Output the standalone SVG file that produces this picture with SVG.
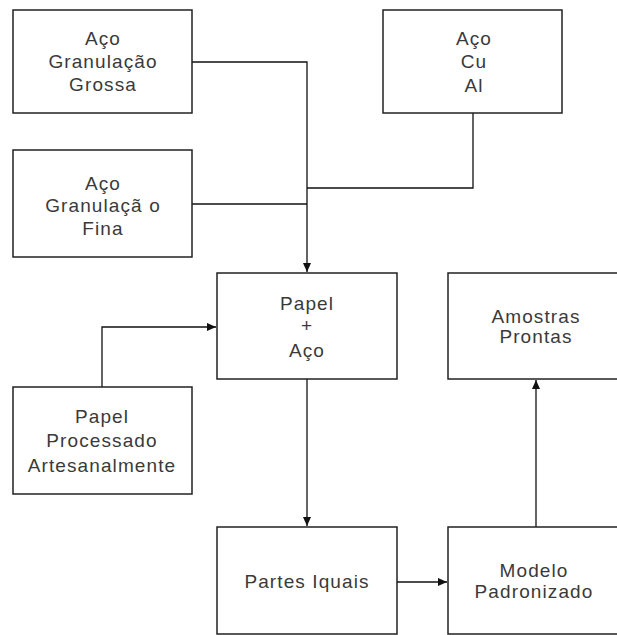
<svg xmlns="http://www.w3.org/2000/svg" width="617" height="635" viewBox="0 0 617 635">
<defs>
<marker id="arr" markerWidth="10" markerHeight="10" refX="9" refY="5" orient="auto" markerUnits="userSpaceOnUse">
<path d="M0,1 L9,5 L0,9 Z" fill="#111"/>
</marker>
<style>
rect{fill:#fff;stroke:#222;stroke-width:1.5}
text{font-family:"Liberation Sans",Arial,sans-serif;font-size:19px;fill:#3a3a3a;text-anchor:middle;letter-spacing:1.1px}
.c{fill:none;stroke:#111;stroke-width:1.3}
</style>
</defs>
<rect x="0" y="0" width="617" height="635" style="stroke:none"/>
<g id="connectors">
<path class="c" d="M192,62 H307 V272" marker-end="url(#arr)"/>
<path class="c" d="M192,204 H307"/>
<path class="c" d="M473,113 V188 H307"/>
<path class="c" d="M102,387 V327 H216" marker-end="url(#arr)"/>
<path class="c" d="M307,379 V526" marker-end="url(#arr)"/>
<path class="c" d="M397,582 H447" marker-end="url(#arr)"/>
<path class="c" d="M536,527 V380" marker-end="url(#arr)"/>
</g>
<g id="n1"><rect x="13" y="10" width="179" height="103"/>
<text x="103" y="45">Aço</text><text x="103" y="68">Granulação</text><text x="103" y="91">Grossa</text></g>
<g id="n2"><rect x="13" y="150" width="179" height="107"/>
<text x="103" y="190">Aço</text><text x="103" y="212">Granulaçã o</text><text x="103" y="235">Fina</text></g>
<g id="n3"><rect x="383" y="10" width="179" height="103"/>
<text x="474" y="45">Aço</text><text x="474" y="68">Cu</text><text x="474" y="92">Al</text></g>
<g id="n4"><rect x="217" y="273" width="180" height="106"/>
<text x="307" y="310">Papel</text><text x="307" y="332">+</text><text x="307" y="357">Aço</text></g>
<g id="n5"><rect x="13" y="387" width="179" height="107"/>
<text x="102" y="423">Papel</text><text x="102" y="447">Processado</text><text x="102" y="472">Artesanalmente</text></g>
<g id="n6"><rect x="448" y="273" width="180" height="106"/>
<text x="536" y="323">Amostras</text><text x="536" y="343">Prontas</text></g>
<g id="n7"><rect x="217" y="527" width="180" height="107"/>
<text x="307" y="588">Partes Iquais</text></g>
<g id="n8"><rect x="448" y="527" width="180" height="107"/>
<text x="534" y="577">Modelo</text><text x="534" y="598">Padronizado</text></g>
</svg>
